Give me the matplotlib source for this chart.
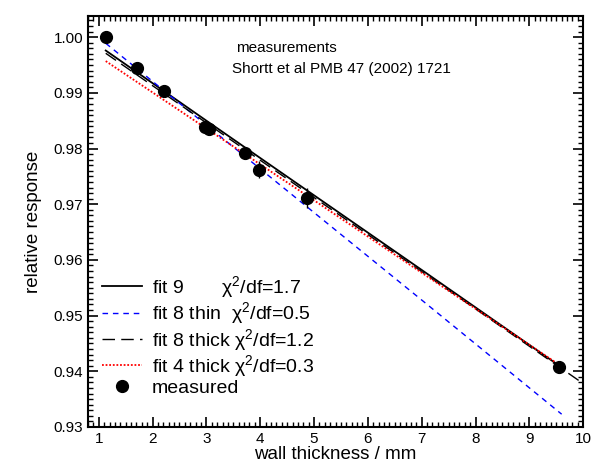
import matplotlib
matplotlib.use('Agg')
import matplotlib.pyplot as plt
from matplotlib.ticker import MultipleLocator
from matplotlib.lines import Line2D

plt.rcParams['font.family'] = ['Liberation Sans', 'DejaVu Sans']
plt.rcParams['mathtext.fontset'] = 'custom'
plt.rcParams['mathtext.rm'] = 'Liberation Sans'
plt.rcParams['mathtext.it'] = 'Liberation Sans'
plt.rcParams['mathtext.default'] = 'regular'

# measured points (Shortt et al)
meas_x = [1.13, 1.71, 2.22, 2.98, 3.05, 3.72, 3.97, 4.86, 9.56]
meas_y = [1.0000, 0.9944, 0.9904, 0.9838, 0.9835, 0.9792, 0.9762, 0.9712, 0.9407]
meas_err = [0.0006, 0.0006, 0.0006, 0.0008, 0.0008, 0.0006, 0.0015, 0.0018, 0.0008]

# fit curves
fit9_x = [1.13, 3.0, 5.0, 7.0, 9.6]
fit9_y = [0.9976, 0.9850, 0.9716, 0.9582, 0.9407]

fit8thin_x = [1.13, 3.0, 5.0, 7.0, 9.6]
fit8thin_y = [0.9989, 0.9842, 0.9685, 0.9528, 0.9323]

fit8thick_x = [1.13, 3.0, 5.0, 7.0, 10.0]
fit8thick_y = [0.9971, 0.9846, 0.9712, 0.9579, 0.9378]

fit4thick_x = [1.13, 3.0, 5.0, 7.0, 9.55]
fit4thick_y = [0.9957, 0.9836, 0.9707, 0.9577, 0.9412]

fig = plt.figure(figsize=(5.92, 4.70), dpi=100)
ax = fig.add_axes([0.1486, 0.0915, 0.8365, 0.8745])

h1, = ax.plot(fit9_x, fit9_y, '-', color='black', lw=1.3)
h2, = ax.plot(fit8thin_x, fit8thin_y, color='blue', lw=1.0, ls=(0, (4, 3.5)))
h3, = ax.plot(fit8thick_x, fit8thick_y, color='black', lw=1.0, ls=(0, (9, 4.5)))
h4, = ax.plot(fit4thick_x, fit4thick_y, color='red', lw=1.3, ls=(0, (1, 1)))
ax.errorbar(meas_x, meas_y, yerr=meas_err, fmt='o', color='black',
            markersize=8.5, elinewidth=1.0, capsize=0)
h5 = Line2D([], [], ls='none', marker='o', color='black', markersize=8.5)

labels = [r'fit 9       χ$^2$/df=1.7',
          r'fit 8 thin  χ$^2$/df=0.5',
          r'fit 8 thick χ$^2$/df=1.2',
          r'fit 4 thick χ$^2$/df=0.3',
          'measured']

ax.text(3.56, 0.9973, 'measurements', fontsize=11)
ax.text(3.48, 0.9936, 'Shortt et al PMB 47 (2002) 1721', fontsize=11)

ax.set_xlim(0.8, 10)
ax.set_ylim(0.93, 1.0038)
ax.xaxis.set_major_locator(MultipleLocator(1))
ax.xaxis.set_minor_locator(MultipleLocator(0.1))
ax.yaxis.set_major_locator(MultipleLocator(0.01))
ax.yaxis.set_minor_locator(MultipleLocator(0.001))
ax.yaxis.set_major_formatter(plt.FormatStrFormatter('%.2f'))
ax.tick_params(which='both', direction='in', top=True, right=True, labelsize=11)
ax.tick_params(which='major', length=7, width=1.2)
ax.tick_params(which='minor', length=3.5, width=1.0)
for s in ax.spines.values():
    s.set_linewidth(1.5)

ax.set_xlabel('wall thickness / mm', fontsize=13.5, labelpad=0)
ax.set_ylabel('relative response', fontsize=13.5, labelpad=8)

ax.legend([h1, h2, h3, h4, h5], labels, loc='lower left',
          bbox_to_anchor=(0.0, 0.04), frameon=False,
          fontsize=14, handlelength=2.1, handletextpad=0.5, labelspacing=0.02,
          numpoints=1, borderaxespad=0.3)

fig.savefig('out.png', dpi=100)
